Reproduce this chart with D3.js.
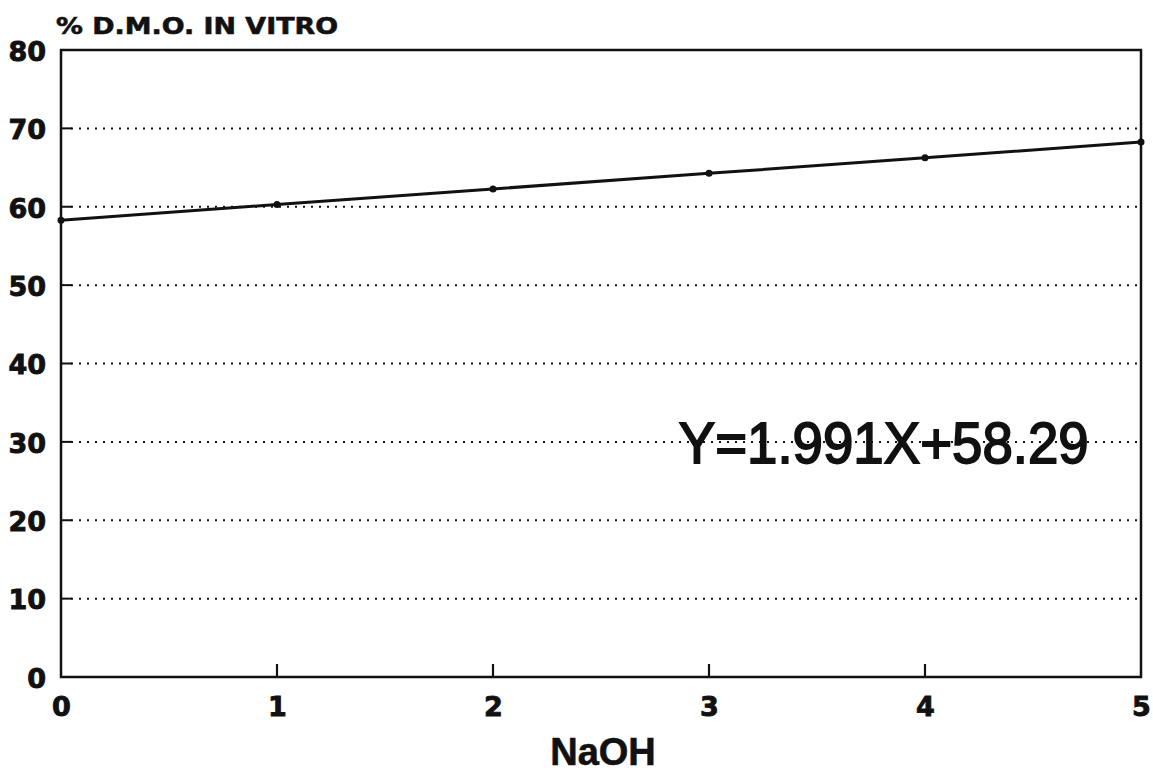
<!DOCTYPE html>
<html>
<head>
<meta charset="utf-8">
<script src="https://cdn.jsdelivr.net/npm/d3@7"></script>
<style>
  html, body { margin: 0; padding: 0; background: #fff; }
  svg { display: block; }
</style>
</head>
<body>
<svg id="chart" width="1153" height="773"></svg>
<script>
// ---- data ----
const naoh = [0, 1, 2, 3, 4, 5];
const dmo = [58.29, 60.28, 62.27, 64.26, 66.25, 68.25];
const xTicks = [0, 1, 2, 3, 4, 5];
const yTicks = [0, 10, 20, 30, 40, 50, 60, 70, 80];
const yTitle = "% D.M.O. IN VITRO";
const xTitle = "NaOH";
const equation = "Y=1.991X+58.29";

const svg = d3.select("#chart");
const W = 1153, H = 773;
const m = { left: 61, right: 12, top: 50, bottom: 96 };
const x = d3.scaleLinear().domain([0, 5]).range([m.left, W - m.right]);
const y = d3.scaleLinear().domain([0, 80]).range([H - m.bottom, m.top]);

const ink = "#111";
const tickFont = "'DejaVu Sans', sans-serif";

// gridlines (dotted)
svg.append("g").selectAll("line")
  .data(yTicks.filter(d => d > 0 && d < 80))
  .join("line")
  .attr("x1", x(0) + 10).attr("x2", x(5))
  .attr("y1", d => y(d)).attr("y2", d => y(d))
  .attr("stroke", ink).attr("stroke-width", 2)
  .attr("stroke-dasharray", "2,6");

// left axis: labels + short inward ticks
const yAxis = d3.axisLeft(y).tickValues(yTicks).tickSize(0).tickPadding(15).tickFormat(d3.format("d"));
const gy = svg.append("g").attr("transform", `translate(${x(0)},0)`).call(yAxis);
gy.select(".domain").remove();
gy.selectAll("text").attr("font-family", tickFont).attr("font-weight", "bold")
  .attr("font-size", 27).attr("fill", ink).attr("stroke", ink).attr("stroke-width", 0.9)
  .attr("dy", "0.38em");
svg.append("g").selectAll("line")
  .data(yTicks.filter(d => d > 0 && d < 80))
  .join("line")
  .attr("x1", x(0)).attr("x2", x(0) + 11)
  .attr("y1", d => y(d)).attr("y2", d => y(d))
  .attr("stroke", ink).attr("stroke-width", 2);

// bottom axis: labels + short inward ticks
const xAxis = d3.axisBottom(x).tickValues(xTicks).tickSize(0).tickPadding(24).tickFormat(d3.format("d"));
const gx = svg.append("g").attr("transform", `translate(0,${y(0)})`).call(xAxis);
gx.select(".domain").remove();
gx.selectAll("text").attr("font-family", tickFont).attr("font-weight", "bold")
  .attr("font-size", 27).attr("fill", ink).attr("stroke", ink).attr("stroke-width", 0.9)
  .attr("dy", "0.55em");
svg.append("g").selectAll("line")
  .data(xTicks.filter(d => d > 0 && d < 5))
  .join("line")
  .attr("x1", d => x(d)).attr("x2", d => x(d))
  .attr("y1", y(0)).attr("y2", y(0) - 13)
  .attr("stroke", ink).attr("stroke-width", 2.2);

// frame
svg.append("rect")
  .attr("x", x(0)).attr("y", y(80))
  .attr("width", x(5) - x(0)).attr("height", y(0) - y(80))
  .attr("fill", "none").attr("stroke", ink).attr("stroke-width", 2.5);

// regression line
const line = d3.line().x((d, i) => x(naoh[i])).y(d => y(d));
svg.append("path").datum(dmo)
  .attr("d", line).attr("fill", "none")
  .attr("stroke", ink).attr("stroke-width", 3);

// points
svg.append("g").selectAll("circle")
  .data(dmo).join("circle")
  .attr("cx", (d, i) => x(naoh[i])).attr("cy", d => y(d))
  .attr("r", 3.5).attr("fill", ink);

// titles
svg.append("text")
  .attr("x", 56).attr("y", 34)
  .attr("font-family", tickFont).attr("font-weight", "bold")
  .attr("font-size", 23).attr("fill", ink).attr("stroke", ink).attr("stroke-width", 0.6)
  .attr("textLength", 282).attr("lengthAdjust", "spacingAndGlyphs")
  .text(yTitle);

svg.append("text")
  .attr("x", (x(0) + x(5)) / 2 + 2).attr("y", 765)
  .attr("text-anchor", "middle")
  .attr("font-family", "'Liberation Sans', Arial, sans-serif").attr("font-weight", "bold")
  .attr("font-size", 38).attr("fill", ink).attr("stroke", ink).attr("stroke-width", 0.6)
  .text(xTitle);

// equation annotation
svg.append("text")
  .attr("x", x(2.86)).attr("y", y(30) + 21)
  .attr("font-family", "'Liberation Sans', Arial, sans-serif")
  .attr("font-size", 57).attr("fill", ink)
  .attr("stroke", ink).attr("stroke-width", 1.8)
  .attr("textLength", 410).attr("lengthAdjust", "spacingAndGlyphs")
  .text(equation);
</script>
</body>
</html>
